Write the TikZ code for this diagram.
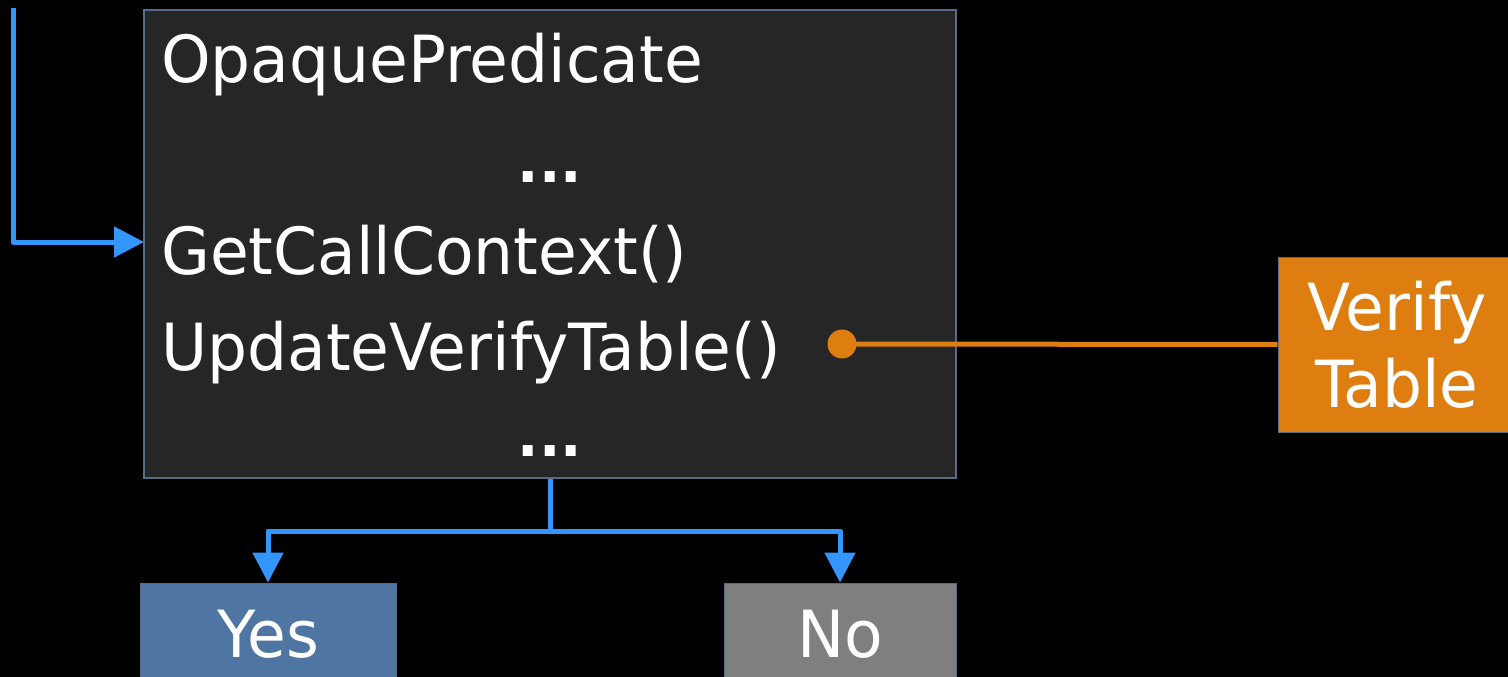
\documentclass[tikz,border=0pt]{standalone}
\usepackage{fontspec}
\setmainfont{DejaVu Sans}[FakeStretch=0.97]
\usetikzlibrary{arrows.meta}
\definecolor{flowblue}{RGB}{51,150,255}
\definecolor{panel}{RGB}{38,38,38}
\definecolor{panelrule}{RGB}{88,108,134}
\definecolor{tableorange}{RGB}{222,125,16}
\definecolor{yesblue}{RGB}{79,117,162}
\definecolor{nogray}{RGB}{127,127,127}
\tikzset{
  big/.style={font=\fontsize{65}{77}\selectfont, text=white, inner sep=0pt},
  codeline/.style={big, anchor=base west},
  gap/.style={text=white, inner sep=0pt, anchor=base, font=\fontsize{58}{70}\selectfont\bfseries},
  panelbox/.style={draw=panelrule, line width=2pt, fill=panel, minimum width=812pt, minimum height=468pt, inner sep=0pt},
  outcome/.style={big, draw=panelrule, line width=1pt, minimum height=102pt},
  flow/.style={flowblue, line width=5pt, line join=round, -{Triangle[length=30pt,width=30pt]}},
  link/.style={tableorange, line width=5pt},
}
\begin{document}
\begin{tikzpicture}[x=1pt,y=-1pt]
  \fill[black] (0,0) rectangle (1508,677);
  \useasboundingbox (0,0) rectangle (1508,677);
  \clip (0,0) rectangle (1508,677);

  % predicate block
  \node[panelbox] (main) at (550,244) {};
  \node[codeline] (op)  at (161,82)  {OpaquePredicate};
  \node[gap]      (d1)  at (550,182) {...};
  \node[codeline] (gcc) at (161,274) {GetCallContext()};
  \node[codeline] (uvt) at (161,370) {UpdateVerifyTable()};
  \node[gap]      (d2)  at (550,456) {...};

  % incoming control flow
  \coordinate (src) at (13,8);
  \coordinate (entry) at (144,242);
  \draw[flow] (src) |- (entry);

  % table side
  \node[big, fill=tableorange, draw=panelrule, line width=1pt, align=center,
        minimum width=238pt, minimum height=175pt] (vt) at (1397,344.5) {Verify\\Table};
  \node[circle, fill=tableorange, inner sep=0pt, minimum size=29pt] (dot) at (842,344) {};
  \draw[link] (dot.center) -- (vt.west);

  % outcomes
  \node[outcome, fill=yesblue, minimum width=256pt] (yes) at (268,634) {Yes};
  \node[outcome, fill=nogray, minimum width=232pt] (no) at (840,634) {No};
  \coordinate (split) at (550,531);
  \draw[flow, -] (main.south) -- (split);
  \draw[flow] (split) -| (yes.north);
  \draw[flow] (split) -| (no.north);
\end{tikzpicture}
\end{document}
